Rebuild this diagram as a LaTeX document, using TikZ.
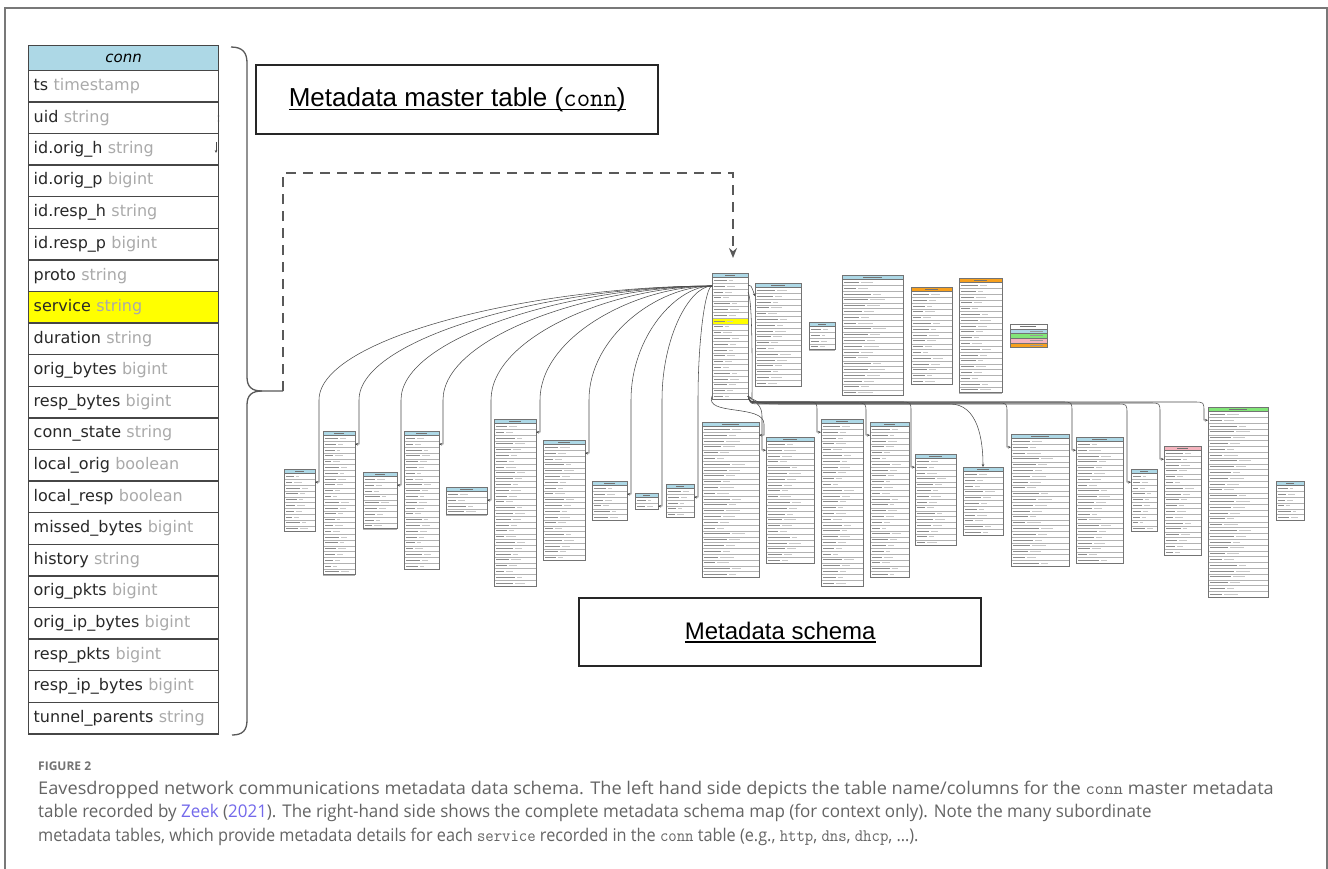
\documentclass[tikz,border=0pt]{standalone}
\usepackage{graphicx}
\usepackage{fontspec}
\setmainfont{DejaVu Sans}
\newfontfamily\capfont{Open Sans}
\newfontfamily\arialf{Liberation Sans}
\usetikzlibrary{arrows.meta}
\definecolor{hdrblue}{RGB}{173,216,230}
\definecolor{hdrorange}{RGB}{247,160,30}
\definecolor{hdrgreen}{RGB}{130,230,120}
\definecolor{hdrpink}{RGB}{245,180,190}
\definecolor{hdryellow}{RGB}{255,255,0}
\definecolor{typegray}{RGB}{170,170,170}
\definecolor{namecol}{RGB}{40,40,40}
\definecolor{capgray}{RGB}{100,100,100}
\definecolor{linkblue}{RGB}{115,105,235}
\definecolor{framegray}{RGB}{120,120,120}
\definecolor{rowline}{RGB}{70,70,70}
\newcommand\myul[1]{\setbox0\hbox{#1}\rlap{\rule[-3.5pt]{\wd0}{1.4pt}}\box0}
\newcommand\cd[1]{{\ttfamily #1}}
\newcommand\mtab[6]{%
  \fill[#6] (#2,#3) rectangle ++(#4,4.5);
  \fill[black!55] ({#2+#4*0.35},{#3+1.8}) rectangle ++({#4*0.3},1);
  \foreach \k in {1,...,#5}{%
    \pgfmathsetmacro\la{#4*(0.2+0.05*mod(\k*5+#2,6))}%
    \pgfmathsetmacro\lb{#4*(0.12+0.04*mod(\k*3+#3,4))}%
    \draw[minitxt] ({#2+2},{#3+4.5+(\k-0.5)*5.8}) -- ++(\la,0);
    \draw[minitxt2] ({#2+4+\la},{#3+4.5+(\k-0.5)*5.8}) -- ++(\lb,0);
    \draw[minirow] (#2,{#3+4.5+\k*5.8}) -- ++(#4,0);
  }%
  \draw[miniframe] (#2,#3) rectangle ++(#4,{4.5+#5*5.8});
  \draw[miniframe] (#2,{#3+4.5}) -- ++(#4,0);
  \coordinate (#1-l) at (#2,{#3+4.5+1.5*5.8});
  \coordinate (#1-r) at ({#2+#4},{#3+4.5+1.5*5.8});
  \coordinate (#1-n) at ({#2+#4/2},#3);
}
\newcommand\lcon[2]{%
  \draw[cline] (sconn-w) .. controls ({712-0.45*(712-#2)},286) and (#2,{286+0.45*(400-286)}) .. (#2,400) |- (#1);
}
\newcommand\rcon[3]{%
  \draw[cline] (sconn-se) .. controls (750,#3) .. (762,#3) -- ({#2-10},#3) .. controls (#2,#3) .. (#2,{#3+10}) |- (#1);
}
\begin{document}
\begin{tikzpicture}[x=1pt,y=-1pt,
  minitxt/.style={draw=black!45,line width=0.9pt},
  minitxt2/.style={draw=black!22,line width=0.9pt},
  minirow/.style={draw=black!30,line width=0.4pt},
  miniframe/.style={draw=black!55,line width=0.5pt},
  cline/.style={draw=black!70,line width=0.55pt,-{Stealth[length=3pt,width=2.6pt]}},
  lrow/.style={draw=rowline,line width=1.4pt,minimum width=190pt,minimum height=31.6pt,
    anchor=north west,text width=180pt,align=left,inner xsep=5pt,inner ysep=0pt,
    font=\fontsize{16}{18}\selectfont},
  titlebox/.style={draw=black!85,line width=2.4pt,anchor=north west,inner sep=0pt},
  brace/.style={draw=black!65,line width=1.3pt},
  dashline/.style={draw=black!65,line width=2.5pt,dash pattern=on 10pt off 7pt,
    -{Stealth[length=10pt,width=8pt]}},
  capline/.style={anchor=base west,inner sep=0pt,text=capgray,
    font=\capfont\fontsize{17.5}{20}\selectfont}]
\useasboundingbox (0,0) rectangle (1328,868);
\fill[white] (0,0) rectangle (1328,868);
% outer frame
\draw[framegray,line width=1.5pt] (5,880) -- (5,8) -- (1327,8) -- (1327,880);

% ===== left master table =====
\fill[hdryellow] (28,{69.5+7*31.6}) rectangle ++(190,31.6);
\node[lrow,fill=hdrblue,minimum height=24.5pt,align=center,font=\fontsize{15}{17}\selectfont\itshape] (lhdr) at (28,45) {conn};
\foreach \n/\t [count=\i from 0] in {ts/timestamp,uid/string,id.orig\_h/string,id.orig\_p/bigint,id.resp\_h/string,id.resp\_p/bigint,proto/string,service/string,duration/string,orig\_bytes/bigint,resp\_bytes/bigint,conn\_state/string,local\_orig/boolean,local\_resp/boolean,missed\_bytes/bigint,history/string,orig\_pkts/bigint,orig\_ip\_bytes/bigint,resp\_pkts/bigint,resp\_ip\_bytes/bigint,tunnel\_parents/string}{
  \node[lrow] (lrow\i) at (28,{69.5+\i*31.6}) {\textcolor{namecol}{\n} \textcolor{typegray}{\t}};
}
\coordinate (tickA) at (216,142);
\coordinate (tickB) at (216,153);
\draw[cline] (tickA) -- (tickB);
\fill[black!70] (218.5,116) circle (0.9) (218.5,121) circle (0.9);

% ===== brace =====
\coordinate (bracetip) at (283,391);
\draw[brace] (231,47) .. controls (243,47) and (247,53) .. (247,63) -- (247,377)
  .. controls (247,387) and (252,391) .. (262,391) -- (bracetip);
\draw[brace] (262,391) .. controls (252,391) and (247,395) .. (247,405) -- (247,720)
  .. controls (247,730) and (243,735) .. (232,735);

% ===== title boxes =====
\node[titlebox,minimum width=402pt,minimum height=69pt,font=\arialf\fontsize{26}{28}\selectfont] (mbox) at (255,64)
  {\myul{Metadata master table (\cd{conn})}};
\node[titlebox,minimum width=402pt,minimum height=68pt,font=\arialf\fontsize{24}{26}\selectfont] (sbox) at (578,597)
  {\myul{Metadata schema}};

% ===== schema: top row =====
\fill[hdryellow] (712,{277.5+7*5.8}) rectangle ++(36,5.8);
\mtab{sconn}{712}{273}{36}{21}{hdrblue}
\coordinate (sconn-w) at (712,286);
\coordinate (sconn-sw) at (712,396);
\coordinate (sconn-se) at (748,396);
\coordinate (sconn-e) at (748,285);
\coordinate (dashend) at (733,258);
\mtab{tb}{755}{283}{46}{17}{hdrblue}
\mtab{tc}{809}{322}{26}{4}{hdrblue}
\mtab{td}{842}{275}{61}{20}{hdrblue}
\mtab{te}{911}{287}{41}{16}{hdrorange}
\mtab{tf}{959}{278}{43}{19}{hdrorange}
% legend
\fill[hdrblue] (1010,329) rectangle ++(37,4.6);
\fill[hdrgreen] (1010,333.6) rectangle ++(37,4.6);
\fill[hdrpink] (1010,338.2) rectangle ++(37,4.6);
\fill[hdrorange] (1010,342.8) rectangle ++(37,4.6);
\fill[black!55] (1020,325.8) rectangle ++(16,1);
\foreach \yy in {331.3,335.9,340.5,345.1}{\fill[black!40] (1030,\yy-0.5) rectangle ++(13,1);}
\draw[miniframe] (1010,324) rectangle (1047,347.4);
\foreach \yy in {329,333.6,338.2,342.8}{\draw[miniframe] (1010,\yy) -- (1047,\yy);}

% ===== schema: bottom-left tables =====
\mtab{ta}{284}{469}{31}{10}{hdrblue}
\mtab{tb2}{323}{431}{32}{24}{hdrblue}
\mtab{tc2}{363}{472}{34}{9}{hdrblue}
\mtab{td2}{404}{431}{35}{23}{hdrblue}
\mtab{te2}{446}{487}{41}{4}{hdrblue}
\mtab{tf2}{494}{419}{42}{28}{hdrblue}
\mtab{tg2}{543}{440}{42}{20}{hdrblue}
\mtab{th2}{592}{481}{35}{6}{hdrblue}
\mtab{ti2}{635}{493}{23}{2}{hdrblue}
\mtab{tj2}{666}{484}{28}{5}{hdrblue}
% ===== schema: bottom-right tables =====
\mtab{tk}{702}{422}{57}{26}{hdrblue}
\mtab{tl}{766}{437}{48}{21}{hdrblue}
\mtab{tm}{821}{419}{42}{28}{hdrblue}
\mtab{tn}{870}{422}{39}{26}{hdrblue}
\mtab{to}{915}{454}{41}{15}{hdrblue}
\mtab{tp}{963}{467}{40}{11}{hdrblue}
\mtab{tq}{1011}{434}{58}{22}{hdrblue}
\mtab{tr}{1076}{437}{47}{21}{hdrblue}
\mtab{ts}{1131}{469}{26}{10}{hdrblue}
\mtab{tt}{1164}{446}{37}{18}{hdrpink}
\mtab{tu}{1208}{407}{60}{32}{hdrgreen}
\mtab{tv}{1276}{481}{28}{6}{hdrblue}

% ===== connectors, left fan =====
\lcon{ta-r}{319}
\lcon{tb2-r}{359}
\lcon{tc2-r}{401}
\lcon{td2-r}{443}
\lcon{te2-r}{491}
\lcon{tf2-r}{540}
\lcon{tg2-r}{589}
\lcon{th2-r}{631}
\lcon{ti2-r}{662}
\lcon{tj2-r}{698}
% ===== connectors, right bundle =====
\draw[cline] (sconn-sw) .. controls (704,416) and (764,404) .. (764,424) |- (tk-r);
\draw[cline] (sconn-se) .. controls (754,402) and (762,404) .. (762,416) |- (tl-l);
\rcon{tm-l}{817}{402}
\rcon{tn-l}{866}{403}
\rcon{to-l}{911}{402}
\draw[cline] (sconn-se) .. controls (760,404) .. (790,404) -- (950,404) .. controls (978,404) and (983,440) .. (tp-n);
\rcon{tq-l}{1007}{403}
\rcon{tr-l}{1072}{402}
\rcon{ts-l}{1127}{404}
\rcon{tt-l}{1160}{403}
\rcon{tu-l}{1204}{402}
\draw[cline] (sconn-e) .. controls (751,285) .. (tb-l);
\draw[draw=black!70,line width=0.55pt] (748,292) .. controls (753,300) and (752,380) .. (752,398);

% ===== dashed pointer =====
\draw[dashline] (bracetip) |- (733,173) -- (dashend);

% ===== caption =====
\node[anchor=base west,inner sep=0pt,text=black!55,font=\capfont\fontsize{12}{14}\selectfont\bfseries] (figlbl) at (38,770) {FIGURE 2};
\node[capline] (cap1) at (38,794) {\scalebox{1.04}[1]{Eavesdropped network communications metadata data schema. The left hand side depicts the table name/columns for the \cd{conn} master metadata}};
\node[capline] (cap2) at (38,817) {\scalebox{0.97}[1]{table recorded by \textcolor{linkblue}{Zeek} (\textcolor{linkblue}{2021}). The right-hand side shows the complete metadata schema map (for context only). Note the many subordinate}};
\node[capline] (cap3) at (38,841) {\scalebox{0.93}[1]{metadata tables, which provide metadata details for each \cd{service} recorded in the \cd{conn} table (e.g., \cd{http}, \cd{dns}, \cd{dhcp}, \dots).}};
\end{tikzpicture}
\end{document}
